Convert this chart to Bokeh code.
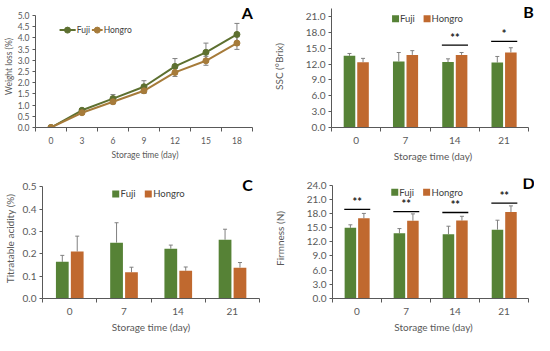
from bokeh.plotting import figure
from bokeh.layouts import column, row
from bokeh.models import (ColumnDataSource, FixedTicker, PrintfTickFormatter, Whisker,
                          TeeHead, Label, Range1d)
from bokeh.embed import file_html
from bokeh.resources import INLINE
from bokeh.core.properties import value

# ---------------- data ----------------
days_A = [0, 3, 6, 9, 12, 15, 18]
fuji_A = [0.0, 0.77, 1.29, 1.82, 2.73, 3.36, 4.16]
fuji_A_err = [0.0, 0.07, 0.18, 0.27, 0.35, 0.41, 0.49]
hongro_A = [0.0, 0.66, 1.15, 1.64, 2.46, 2.98, 3.77]
hongro_A_err = [0.0, 0.05, 0.1, 0.12, 0.18, 0.2, 0.28]

bar_days = ["0", "7", "14", "21"]
series_names = ["Fuji", "Hongro"]

fuji_B = [13.57, 12.5, 12.4, 12.3]
fuji_B_err = [0.45, 1.7, 0.6, 1.15]
hongro_B = [12.34, 13.75, 13.75, 14.2]
hongro_B_err = [0.75, 0.8, 0.45, 0.9]
sig_B_idx = [2, 3]
sig_B_y = [15.6, 16.3]
sig_B_txt = ["**", "*"]

fuji_C = [0.164, 0.25, 0.223, 0.263]
fuji_C_err = [0.029, 0.089, 0.016, 0.047]
hongro_C = [0.21, 0.117, 0.124, 0.138]
hongro_C_err = [0.069, 0.023, 0.017, 0.023]

fuji_D = [14.95, 13.8, 13.6, 14.57]
fuji_D_err = [0.65, 1.0, 1.7, 2.0]
hongro_D = [16.96, 16.46, 16.5, 18.3]
hongro_D_err = [1.05, 1.45, 0.9, 1.3]
sig_D_idx = [0, 1, 2, 3]
sig_D_y = [18.85, 18.4, 18.2, 20.2]
sig_D_txt = ["**", "**", "**", "**"]

# ---------------- styles ----------------
FUJI_BAR = "#568236"
HONGRO_BAR = "#C0692F"
FUJI_LINE = "#5D7030"
HONGRO_LINE = "#A67B3A"
ERR = "#808080"
AXIS = "#595959"
TXT = "#595959"
FONT = "Lato"


def base_fig(w, h, bl, br, bt, bb, xr, yr, xb, yb, fs_tick, fs_lab):
    p = figure(width=w, height=h, output_backend="svg", toolbar_location=None,
               x_range=Range1d(*xr), y_range=Range1d(*yr),
               min_border_left=bl, min_border_right=br,
               min_border_top=bt, min_border_bottom=bb)
    p.outline_line_color = None
    p.xgrid.visible = False
    p.ygrid.visible = False
    for ax in (p.xaxis[0], p.yaxis[0]):
        ax.axis_line_color = AXIS
        ax.axis_label_text_font = FONT
        ax.axis_label_text_font_size = fs_lab
        ax.axis_label_text_font_style = "normal"
        ax.axis_label_text_color = TXT
        ax.major_label_text_font = FONT
        ax.major_label_text_font_size = fs_tick
        ax.major_label_text_color = TXT
    p.xaxis.bounds = xb
    p.yaxis.bounds = yb
    p.yaxis.major_tick_line_color = AXIS
    p.yaxis.major_tick_out = 3
    p.yaxis.major_tick_in = 0
    p.yaxis.minor_tick_line_color = None
    p.yaxis.major_label_standoff = 3
    p.xaxis.major_tick_line_color = None
    p.xaxis.major_tick_out = 0
    p.xaxis.minor_tick_line_color = AXIS
    p.xaxis.minor_tick_out = 4
    p.xaxis.minor_tick_in = 0
    p.xaxis.major_label_standoff = 5
    p.xaxis.axis_label_standoff = 3
    p.xaxis.axis_label = "Storage time (day)"
    return p


def panel_label(p, x, y, t):
    p.add_layout(Label(x=x, y=y, text=t, text_font=FONT, text_font_style="bold",
                       text_font_size="16px", text_color="black",
                       text_align="center", text_baseline="middle"))


def legend_text(p, xs, y, fs):
    p.text(x=xs, y=[y] * len(xs), text=series_names, text_font=value(FONT),
           text_font_size=fs, text_color="#404040", text_align="left",
           text_baseline="middle")


# ---------------- Panel A ----------------
pA = base_fig(267, 168, 33, 13, 2, 41, (-1.5, 19.7), (0, 5.45), (-1.5, 19.5), (0, 5.0),
              "8.5px", "8.5px")
pA.yaxis.ticker = FixedTicker(ticks=[i * 0.5 for i in range(11)])
pA.yaxis.formatter = PrintfTickFormatter(format="%.1f")
pA.xaxis.ticker = FixedTicker(ticks=days_A, minor_ticks=[d - 1.5 for d in days_A] + [19.5])
pA.yaxis.axis_label = "Weight loss (%)"
pA.yaxis.axis_label_standoff = 1

srcA = ColumnDataSource(dict(x=days_A, f=fuji_A,
                             fl=[a - b for a, b in zip(fuji_A, fuji_A_err)],
                             fu=[a + b for a, b in zip(fuji_A, fuji_A_err)],
                             h=hongro_A,
                             hl=[a - b for a, b in zip(hongro_A, hongro_A_err)],
                             hu=[a + b for a, b in zip(hongro_A, hongro_A_err)]))
for lo, up in (("fl", "fu"), ("hl", "hu")):
    pA.add_layout(Whisker(source=srcA, base="x", lower=lo, upper=up, line_color=ERR,
                          line_width=1,
                          upper_head=TeeHead(size=5, line_color=ERR, line_width=1),
                          lower_head=TeeHead(size=5, line_color=ERR, line_width=1)))
pA.line("x", "f", source=srcA, line_color=FUJI_LINE, line_width=2)
pA.scatter("x", "f", source=srcA, size=6, fill_color=FUJI_LINE, line_color=FUJI_LINE)
pA.line("x", "h", source=srcA, line_color=HONGRO_LINE, line_width=2)
pA.scatter("x", "h", source=srcA, size=6, fill_color=HONGRO_LINE, line_color=HONGRO_LINE)
# legend (line + marker keys)
pA.segment(x0=[0.83, 3.96], x1=[2.39, 5.0], y0=[4.35, 4.35], y1=[4.35, 4.35],
           line_color=[FUJI_LINE, HONGRO_LINE], line_width=2)
pA.scatter(x=[1.6, 4.48], y=[4.35, 4.35], size=6, fill_color=[FUJI_LINE, HONGRO_LINE],
           line_color=[FUJI_LINE, HONGRO_LINE])
legend_text(pA, [2.5, 5.1], 4.35, "8.5px")
panel_label(pA, 19.0, 5.13, "A")


# ---------------- bar panels ----------------
def bar_panel(w, h, bl, br, bt, bb, xr, yr, yb, yticks, fuji, fuji_err, hongro, hongro_err,
              ylabel, ylab_standoff, leg, lab, labpos, sig=None):
    p = base_fig(w, h, bl, br, bt, bb, xr, yr, (-0.5, 3.5), yb, "10px", "10px")
    idx = list(range(len(bar_days)))
    p.xaxis.ticker = FixedTicker(ticks=idx, minor_ticks=[i - 0.5 for i in idx] + [3.5])
    p.xaxis.major_label_overrides = {i: d for i, d in zip(idx, bar_days)}
    p.yaxis.ticker = FixedTicker(ticks=yticks)
    p.yaxis.formatter = PrintfTickFormatter(format="%.1f")
    p.yaxis.axis_label = ylabel
    p.yaxis.axis_label_standoff = ylab_standoff
    src = ColumnDataSource(dict(
        xf=[i - 0.135 for i in idx], xh=[i + 0.14 for i in idx],
        f=fuji, fu=[a + b for a, b in zip(fuji, fuji_err)],
        h=hongro, hu=[a + b for a, b in zip(hongro, hongro_err)]))
    p.vbar(x="xf", top="f", width=0.235, source=src, fill_color=FUJI_BAR, line_color=None)
    p.vbar(x="xh", top="h", width=0.235, source=src, fill_color=HONGRO_BAR, line_color=None)
    for b, lo, up in (("xf", "f", "fu"), ("xh", "h", "hu")):
        p.add_layout(Whisker(source=src, base=b, lower=lo, upper=up, line_color=ERR,
                             line_width=1, lower_head=None,
                             upper_head=TeeHead(size=4, line_color=ERR, line_width=1)))
    if sig is not None:
        si, sy, st = sig
        span = (yb[1] - yb[0]) * 0.01
        p.segment(x0=[i - 0.26 for i in si], x1=[i + 0.27 for i in si], y0=sy, y1=sy,
                  line_color="black", line_width=1.3)
        p.text(x=[i + 0.005 for i in si], y=[v + span for v in sy], text=st,
               text_font=value(FONT), text_font_size="11px", text_font_style="bold",
               text_color="#222222", text_align="center", text_baseline="bottom")
    # legend keys
    kx, tx, ky = leg
    p.scatter(x=kx, y=[ky, ky], marker="square", size=7,
              fill_color=[FUJI_BAR, HONGRO_BAR], line_color=None)
    legend_text(p, tx, ky, "9.5px")
    panel_label(p, labpos[0], labpos[1], lab)
    return p


pB = bar_panel(267, 168, 64, 0, 5, 41, (-0.5, 3.62), (0, 23.1), (0, 22.6),
               [3 * i for i in range(8)],
               fuji_B, fuji_B_err, hongro_B, hongro_B_err, "SSC (°Brix)", 18,
               ([0.80, 1.44], [0.89, 1.53], 20.6), "B", (3.5, 21.9),
               (sig_B_idx, sig_B_y, sig_B_txt))
pC = bar_panel(267, 167, 41, 8, 8, 30, (-0.5, 3.5), (0, 0.537), (0, 0.5),
               [0.1 * i for i in range(6)],
               fuji_C, fuji_C_err, hongro_C, hongro_C_err, "Titratable acidity (%)", 4,
               ([0.85, 1.45], [0.94, 1.54], 0.468), "C", (3.28, 0.508))
pD = bar_panel(267, 167, 65, 0, 10, 30, (-0.5, 3.62), (0, 25.4), (0, 24),
               [3 * i for i in range(9)],
               fuji_D, fuji_D_err, hongro_D, hongro_D_err, "Firmness (N)", 18,
               ([0.77, 1.42], [0.86, 1.52], 22.5), "D", (3.5, 24.6),
               (sig_D_idx, sig_D_y, sig_D_txt))

layout = column(row(pA, pB), row(pC, pD))
open("out.html", "w").write(file_html(layout, INLINE))
